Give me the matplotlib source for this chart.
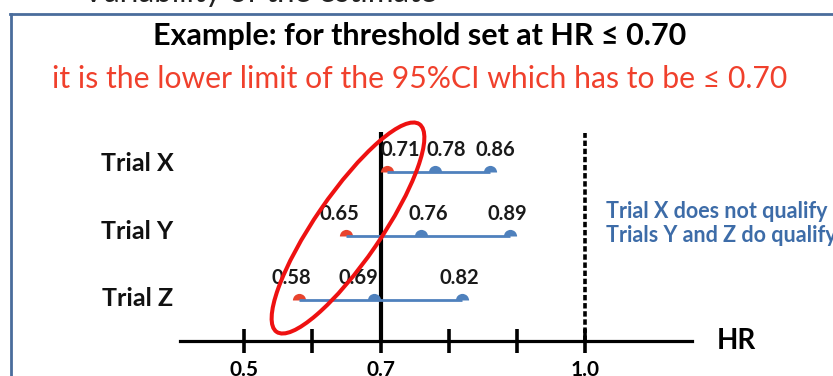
import matplotlib
matplotlib.use("Agg")
import matplotlib.pyplot as plt
from matplotlib.patches import Ellipse
from matplotlib.lines import Line2D
from matplotlib.transforms import ScaledTranslation

plt.rcParams['font.family'] = ['Lato', 'DejaVu Sans']

# Hazard ratio estimates: lower 95% CI limit, point estimate, upper limit
trials = ["Trial X", "Trial Y", "Trial Z"]
ci_low = [0.71, 0.65, 0.58]
hr_est = [0.78, 0.76, 0.69]
ci_high = [0.86, 0.89, 0.82]

threshold = 0.70
no_effect = 1.0
tick_values = [0.5, 0.6, 0.7, 0.8, 0.9, 1.0]
tick_labels = ["0.5", "", "0.7", "", "", "1.0"]

title = "Example: for threshold set at HR \u2264 0.70"
subtitle = "it is the lower limit of the 95%CI which has to be \u2264 0.70"
heading = "Variability of the estimate"
notes = ["Trial X does not qualify", "Trials Y and Z do qualify"]

# horizontal nudges (points) for value labels, per trial: low, est, high
label_nudge = [[9, 8, 4], [-5, 5, -2], [-5, -11, -2]]
# vertical nudges (points) for the trial names
name_nudge = [6, 3, 1]

BLUE = "#4f81bd"
RED_DOT = "#e8432d"
RED_TEXT = "#f0402c"
NOTE_BLUE = "#3d6ca8"
FRAME = "#4a6d9c"

fig = plt.figure(figsize=(8.33, 3.76), dpi=100)
fig.patch.set_facecolor("white")
ax = fig.add_axes([0, 0, 1, 1])
ax.set_xlim(0.1429, 1.3625)
ax.set_ylim(-1.1875, 4.6875)
ax.set_facecolor("none")

rows = list(range(len(trials)))[::-1]   # Trial X on top
axis_y = -0.64

# HR axis
for side in ("top", "left", "right"):
    ax.spines[side].set_visible(False)
ax.yaxis.set_visible(False)
ax.spines["bottom"].set_position(("data", axis_y))
ax.spines["bottom"].set_bounds(0.4066, 1.1561)
ax.spines["bottom"].set_linewidth(2.3)
ax.set_xticks(tick_values)
ax.set_xticklabels(tick_labels)
ax.tick_params(axis="x", direction="inout", length=17, width=2.6, pad=5.5,
               labelsize=15)
for lab in ax.get_xticklabels():
    lab.set_fontweight("bold")
ax.text(1.1561 + 0.036, axis_y, "HR", fontsize=20, fontweight="bold",
        va="center", ha="left")

# threshold and no-effect reference lines
ax.plot([threshold, threshold], [axis_y, 2.625], color="black", lw=3.0,
        solid_capstyle="butt", zorder=3)
ax.plot([no_effect, no_effect], [axis_y, 2.61], color="black", lw=2.6,
        linestyle=(0, (1.5, 0.75)), zorder=3)

# confidence intervals
for r, name, lo, est, hi, nudge, ndy in zip(rows, trials, ci_low, hr_est,
                                            ci_high, label_nudge, name_nudge):
    ax.plot([lo, hi], [r, r], color=BLUE, lw=2.0, solid_capstyle="butt",
            zorder=5)
    ax.plot([est, hi], [r, r], linestyle="none", marker="o", markersize=9.5,
            fillstyle="top", markerfacecolor=BLUE, markerfacecoloralt="none",
            markeredgewidth=0, zorder=4)
    ax.plot([lo], [r], linestyle="none", marker="o", markersize=9.5,
            fillstyle="top", markerfacecolor=RED_DOT, markerfacecoloralt="none",
            markeredgewidth=0, zorder=4)
    for v, dx in zip((lo, est, hi), nudge):
        ax.annotate(f"{v:.2f}", (v, r), xytext=(dx, 16),
                    textcoords="offset points", ha="center", va="center",
                    fontsize=14.5, fontweight="bold", color="#1a1a1a", zorder=6)
    ax.annotate(name, (0.3437, r), xytext=(0, ndy), textcoords="offset points",
                ha="center", va="center", fontsize=18, fontweight="bold",
                color="#111111")

# ring around the lower confidence limits
ring_tr = fig.dpi_scale_trans + ScaledTranslation(0.6524, 1.125, ax.transData)
ax.add_patch(Ellipse((0, 0), 2.52, 0.66, angle=55.5, fill=False,
                     edgecolor="#ee1111", lw=2.9, transform=ring_tr, zorder=7))

# side notes
ax.text(0.7 + (606 - 380.5) / 683, 1.2, notes[0] + "\n" + notes[1],
        ha="left", va="center", fontsize=15.5, fontweight="bold",
        color=NOTE_BLUE, linespacing=1.2)

# headings
fig.text(0.504, 1 - 45 / 376, title, ha="center", va="baseline",
         fontsize=22, fontweight="bold", color="black")
fig.text(0.504, 1 - 88 / 376, subtitle, ha="center", va="baseline",
         fontsize=21.7, color=RED_TEXT)
fig.text(260 / 833, 1 - 2 / 376, heading, ha="center", va="baseline",
         fontsize=22.5, color="#222222")

# frame
fig.add_artist(Line2D([10.5 / 833, 10.5 / 833], [0, 1 - 13.5 / 376],
                      transform=fig.transFigure, color=FRAME, lw=2.0))
fig.add_artist(Line2D([9.5 / 833, 1], [1 - 13.5 / 376, 1 - 13.5 / 376],
                      transform=fig.transFigure, color=FRAME, lw=2.0))

fig.savefig("out.png", dpi=100)
